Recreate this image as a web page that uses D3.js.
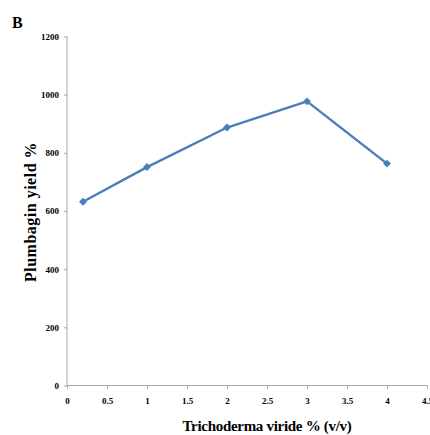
<!DOCTYPE html>
<html>
<head>
<meta charset="utf-8">
<script src="https://cdn.jsdelivr.net/npm/d3@7"></script>
<style>
  html, body { margin: 0; padding: 0; background: #fff; }
  svg { display: block; }
  .tick text { font-family: "Liberation Serif", "DejaVu Serif", serif; font-weight: bold; font-size: 9px; fill: #000; }
</style>
</head>
<body>
<svg id="chart" width="430" height="435"></svg>
<script>
// Plumbagin yield against Trichoderma viride concentration
const concentrations = [0.2, 1, 2, 3, 4];
const yields = [632, 751, 887, 977, 763];
const xTicks = [0, 0.5, 1, 1.5, 2, 2.5, 3, 3.5, 4, 4.5];
const yTicks = [0, 200, 400, 600, 800, 1000, 1200];

const svg = d3.select("#chart");
const plot = { left: 67, right: 427, top: 36.5, bottom: 385.5 };

const x = d3.scaleLinear().domain([0, 4.5]).range([plot.left, plot.right]);
const y = d3.scaleLinear().domain([0, 1200]).range([plot.bottom, plot.top]);

const axisColor = "#a6a6a6";

const yAxis = svg.append("g")
  .attr("transform", `translate(${plot.left},0)`)
  .call(d3.axisLeft(y).tickValues(yTicks).tickSize(3).tickPadding(5).tickFormat(d3.format("d")));
const xAxis = svg.append("g")
  .attr("transform", `translate(0,${plot.bottom})`)
  .call(d3.axisBottom(x).tickValues(xTicks).tickSize(3).tickPadding(9).tickFormat(d => String(d)));
[yAxis, xAxis].forEach(g => {
  g.selectAll("path, line").attr("stroke", axisColor).attr("stroke-width", 1);
  g.select(".domain").remove();
});
svg.append("line").attr("x1", plot.left).attr("x2", plot.left).attr("y1", plot.top).attr("y2", plot.bottom)
  .attr("stroke", axisColor);
svg.append("line").attr("x1", plot.left).attr("x2", plot.right).attr("y1", plot.bottom).attr("y2", plot.bottom)
  .attr("stroke", axisColor);

const pts = concentrations.map((c, i) => [c, yields[i]]);
const lineColor = "#4a7ebb";

svg.append("path")
  .datum(pts)
  .attr("fill", "none")
  .attr("stroke", lineColor)
  .attr("stroke-width", 2.4)
  .attr("stroke-linejoin", "round")
  .attr("d", d3.line().x(d => x(d[0])).y(d => y(d[1])));

svg.selectAll("path.marker")
  .data(pts)
  .join("path")
  .attr("class", "marker")
  .attr("transform", d => `translate(${x(d[0])},${y(d[1])})`)
  .attr("d", d3.symbol(d3.symbolDiamond2, 40)())
  .attr("fill", lineColor);

const serif = "'Liberation Serif', 'DejaVu Serif', serif";

svg.append("text")
  .attr("x", 12).attr("y", 28)
  .attr("font-family", serif).attr("font-weight", "bold").attr("font-size", 16)
  .text("B");

svg.append("text")
  .attr("transform", `translate(36,212) rotate(-90)`)
  .attr("text-anchor", "middle")
  .attr("font-family", serif).attr("font-weight", "bold").attr("font-size", 16)
  .attr("letter-spacing", 0.5)
  .text("Plumbagin yield %");

svg.append("text")
  .attr("x", 267).attr("y", 431)
  .attr("text-anchor", "middle")
  .attr("font-family", serif).attr("font-weight", "bold").attr("font-size", 15)
  .attr("letter-spacing", -0.3)
  .text("Trichoderma viride % (v/v)");
</script>
</body>
</html>
